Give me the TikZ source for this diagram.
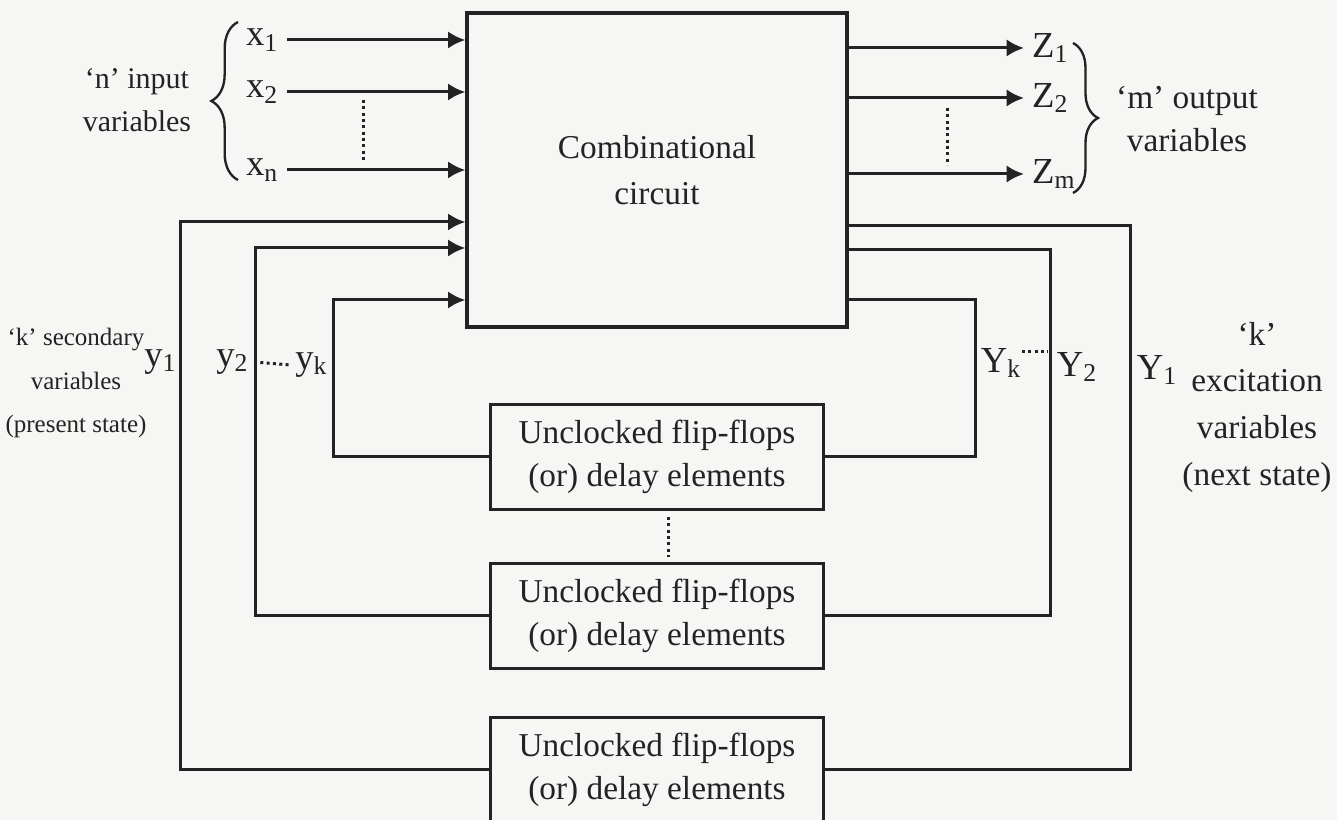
\documentclass[tikz,border=0pt]{standalone}
\usepackage{fontspec}
\setmainfont{Liberation Serif}
\usepackage{tikz}
\usetikzlibrary{arrows.meta,decorations.pathreplacing}
\definecolor{paper}{RGB}{246,246,244}
\definecolor{ink}{RGB}{35,35,35}

\begin{document}
\begin{tikzpicture}[x=0.3pt,y=-0.3pt,line width=0.9pt,draw=ink,text=ink,
  blk/.style={draw=ink,line width=1pt,align=center,inner sep=0pt},
  ffbox/.style={blk,minimum width=100pt,minimum height=31.5pt,font=\fontsize{10}{13}\selectfont},
  arw/.style={-{Latex[length=5.2pt,width=5.2pt]}},
  var/.style={inner sep=2pt,font=\fontsize{11}{13}\selectfont},
  side/.style={align=center,inner sep=0pt},
  dots/.style={densely dotted,line width=0.9pt},
  brc/.style={decorate,line width=0.7pt}]
  \fill[paper] (0,0) rectangle (1337,820);
  \useasboundingbox (0,0) rectangle (1337,820);
  \clip (0,0) rectangle (1337,820);

  \node[blk,minimum width=114pt,minimum height=94.2pt,font=\fontsize{10}{14}\selectfont] (comb) at (657,170) {Combinational\\circuit};
  \node[ffbox] (ff1) at (657,457) {Unclocked flip-flops\\(or) delay elements};
  \node[ffbox] (ff2) at (657,616) {Unclocked flip-flops\\(or) delay elements};
  \node[ffbox] (ff3) at (657,770) {Unclocked flip-flops\\(or) delay elements};

  \node[var,anchor=east] (x1) at (287,40) {x\textsubscript{1}};
  \node[var,anchor=east] (x2) at (287,92) {x\textsubscript{2}};
  \node[var,anchor=east] (xn) at (287,170) {x\textsubscript{n}};
  \draw[arw] (x1.east) -- (x1.east -| comb.west);
  \draw[arw] (x2.east) -- (x2.east -| comb.west);
  \draw[arw] (xn.east) -- (xn.east -| comb.west);
  \draw[dots] (363,100) -- (363,160);

  \node[var,anchor=west] (z1) at (1024,48) {Z\textsubscript{1}};
  \node[var,anchor=west] (z2) at (1024,98) {Z\textsubscript{2}};
  \node[var,anchor=west] (zm) at (1024,174) {Z\textsubscript{m}};
  \draw[arw] (z1.west -| comb.east) -- (z1.west);
  \draw[arw] (z2.west -| comb.east) -- (z2.west);
  \draw[arw] (zm.west -| comb.east) -- (zm.west);
  \draw[dots] (947,108) -- (947,165);

  \draw[brc,decoration={brace,amplitude=8pt}] (238,180) -- (238,22);
  \draw[brc,decoration={brace,amplitude=7.5pt}] (1073,43) -- (1073,193);
  \node[side,font=\fontsize{9}{13}\selectfont] (nin) at (137,100) {`n' input\\variables};
  \node[side,font=\fontsize{10}{13}\selectfont] (mout) at (1187,119) {`m' output\\variables};

  \coordinate (l1) at (180,222);
  \coordinate (l2) at (255,248);
  \coordinate (lk) at (333,300);
  \coordinate (r1) at (1130,226);
  \coordinate (r2) at (1050,250);
  \coordinate (rk) at (975,300);
  \draw[arw] (ff3.west) -| (l1) -- (l1 -| comb.west);
  \draw[arw] (ff2.west) -| (l2) -- (l2 -| comb.west);
  \draw[arw] (ff1.west) -| (lk) -- (lk -| comb.west);
  \draw (r1 -| comb.east) -- (r1) |- (ff3.east);
  \draw (r2 -| comb.east) -- (r2) |- (ff2.east);
  \draw (rk -| comb.east) -- (rk) |- (ff1.east);
  \draw[dots] (ff1.south) ++(11,6) -- ++(0,40);

  \node[var,anchor=east,inner sep=1pt] (y1) at (182,362) {y\textsubscript{1}};
  \node[var,anchor=east,inner sep=1pt] (y2) at (254,362) {y\textsubscript{2}};
  \node[var,anchor=east,inner sep=1pt] (yk) at (333,365) {y\textsubscript{k}};
  \draw[dots] (y2.east) -- (yk.west);
  \node[var,anchor=west,inner sep=1pt] (Yk) at (976,363) {Y\textsubscript{k}};
  \node[var,anchor=west,inner sep=1pt] (Y2) at (1052,367) {Y\textsubscript{2}};
  \node[var,anchor=west,inner sep=1pt] (Y1) at (1132,370) {Y\textsubscript{1}};
  \draw[dots] (1022,352) -- (1048,352);

  \node[side,font=\fontsize{7.5}{13}\selectfont] (ksec) at (76,383) {`k' secondary\\variables\\(present state)};
  \node[side,font=\fontsize{10}{14}\selectfont] (kexc) at (1257,407) {`k'\\excitation\\variables\\(next state)};
\end{tikzpicture}
\end{document}
